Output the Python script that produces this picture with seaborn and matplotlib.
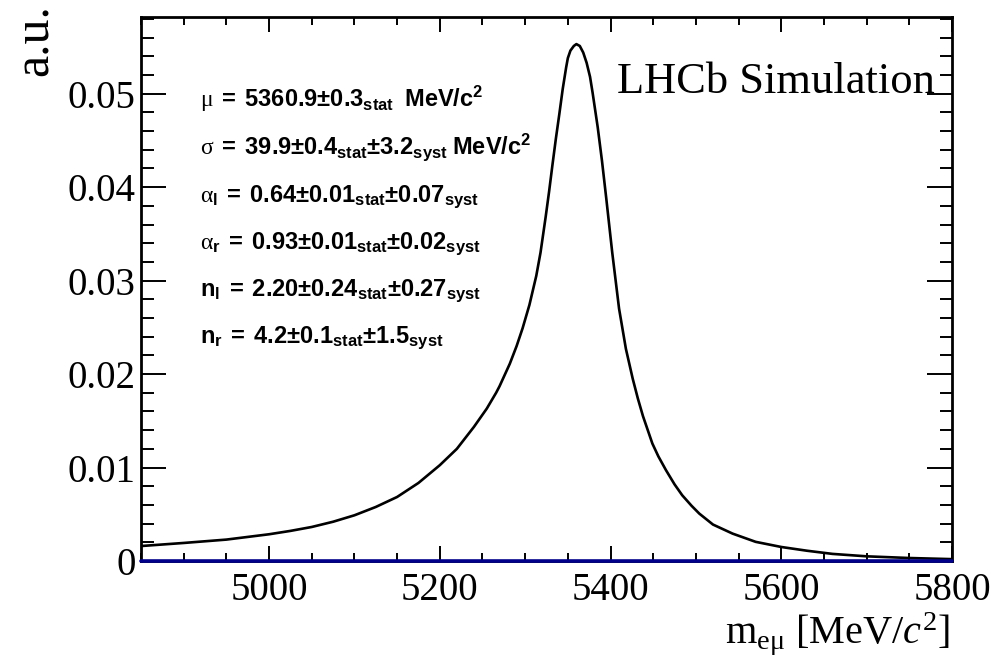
import numpy as np
import pandas as pd
import matplotlib
matplotlib.use("Agg")
import matplotlib.pyplot as plt
import seaborn as sns
from matplotlib.ticker import MultipleLocator, FixedLocator, FixedFormatter

# ---- data ----
mass = [4850, 4900, 4950, 5000, 5025, 5050, 5075, 5100, 5125, 5150, 5175,
        5200, 5220, 5240, 5255, 5266, 5270, 5282, 5290, 5297, 5305, 5313,
        5318, 5324, 5328, 5332, 5336, 5340, 5344, 5348, 5350, 5353, 5357,
        5360, 5364, 5368, 5372, 5376, 5379, 5385, 5390, 5395, 5402, 5410,
        5418, 5426, 5432, 5438, 5449, 5456, 5465, 5475, 5484, 5495, 5504,
        5520, 5543, 5570, 5600, 5630, 5660, 5700, 5750, 5800]
density = [0.00160, 0.00193, 0.00229, 0.00286, 0.00322, 0.00364, 0.00420,
           0.00489, 0.00578, 0.00685, 0.00835, 0.01025, 0.01200, 0.01435,
           0.01630, 0.01800, 0.01870, 0.02110, 0.02300, 0.02490, 0.02740,
           0.03050, 0.03300, 0.03680, 0.03950, 0.04240, 0.04520, 0.04780,
           0.05050, 0.05280, 0.05380, 0.05460, 0.05510, 0.05530, 0.05510,
           0.05440, 0.05330, 0.05180, 0.05010, 0.04640, 0.04280, 0.03880,
           0.03300, 0.02700, 0.02270, 0.01950, 0.01739, 0.01550, 0.01257,
           0.01120, 0.00971, 0.00820, 0.00703, 0.00590, 0.00507, 0.00390,
           0.00293, 0.00205, 0.00150, 0.00110, 0.00076, 0.00050, 0.00032,
           0.00020]

x_ticks = [5000, 5200, 5400, 5600, 5800]
x_tick_labels = ["5000", "5200", "5400", "5600", "5800"]
y_ticks = [0.0, 0.01, 0.02, 0.03, 0.04, 0.05]
y_tick_labels = ["0", "0.01", "0.02", "0.03", "0.04", "0.05"]

param_lines = [
    r"$\mathrm{\mu}\ \mathbf{{=}\ 5360.9{\pm}0.3_{stat}\ \ MeV/c^{2}}$",
    r"$\mathrm{\sigma}\ \mathbf{{=}\ 39.9{\pm}0.4_{stat}{\pm}3.2_{syst}\ MeV/c^{2}}$",
    r"$\mathrm{\alpha}_{\mathbf{l}}\ \mathbf{{=}\ 0.64{\pm}0.01_{stat}{\pm}0.07_{syst}}$",
    r"$\mathrm{\alpha}_{\mathbf{r}}\ \mathbf{{=}\ 0.93{\pm}0.01_{stat}{\pm}0.02_{syst}}$",
    r"$\mathbf{n_{l}\ {=}\ 2.20{\pm}0.24_{stat}{\pm}0.27_{syst}}$",
    r"$\mathbf{n_{r}\ {=}\ 4.2{\pm}0.1_{stat}{\pm}1.5_{syst}}$",
]
label_text = "LHCb Simulation"
x_label = r"m$_{\mathrm{e\mu}}$ [MeV/$c^{2}$]"
y_label = "a.u."

# ---- style ----
sns.set_style("white")
plt.rcParams["font.family"] = ["Liberation Serif", "DejaVu Serif"]
plt.rcParams["mathtext.fontset"] = "custom"
plt.rcParams["mathtext.rm"] = "Liberation Serif"
plt.rcParams["mathtext.it"] = "Liberation Serif:italic"
plt.rcParams["mathtext.bf"] = "Liberation Sans:bold"
plt.rcParams["mathtext.sf"] = "Liberation Sans"
for k in ["text.color", "axes.labelcolor", "xtick.color", "ytick.color",
          "axes.edgecolor"]:
    plt.rcParams[k] = "black"

W, H = 996, 656
fig = plt.figure(figsize=(W / 100, H / 100), dpi=100)
L, R, T, B = 141, 952, 17, 561
ax = fig.add_axes([L / W, 1 - B / H, (R - L) / W, (B - T) / H])

df = pd.DataFrame({"mass": mass, "density": density})
sns.lineplot(data=df, x="mass", y="density", color="black", lw=1.9, ax=ax,
             zorder=3)
base = pd.DataFrame({"mass": [mass[0], mass[-1]], "density": [0.0, 0.0]})
sns.lineplot(data=base, x="mass", y="density", color="#00008b", lw=2.6,
             ax=ax, zorder=4, clip_on=False)

ax.set_xlim(4850, 5800)
ax.set_ylim(0, 0.0582)
ax.set_xlabel("")
ax.set_ylabel("")

ax.xaxis.set_major_locator(FixedLocator(x_ticks))
ax.xaxis.set_major_formatter(FixedFormatter(x_tick_labels))
ax.xaxis.set_minor_locator(MultipleLocator(50))
ax.yaxis.set_major_locator(FixedLocator(y_ticks))
ax.yaxis.set_major_formatter(FixedFormatter(y_tick_labels))
ax.yaxis.set_minor_locator(MultipleLocator(0.002))

for sp in ax.spines.values():
    sp.set_linewidth(2.0)
    sp.set_color("black")

ax.tick_params(axis="both", which="both", direction="in", top=True,
               right=True, bottom=True, left=True, color="black", width=1.4,
               labelsize=28, labelcolor="black")
ax.tick_params(axis="x", which="major", length=11, pad=8)
ax.tick_params(axis="x", which="minor", length=5.5)
ax.tick_params(axis="y", which="major", length=18, pad=4)
ax.tick_params(axis="y", which="minor", length=9)

ax.text((617 - L) / (R - L), (B - 93) / (B - T), label_text,
        transform=ax.transAxes, fontsize=32, ha="left", va="baseline",
        family="Liberation Serif", color="black")

for i, line in enumerate(param_lines):
    yb = 107 + i * 47.3
    fig.text(200 / W, 1 - yb / H, line, fontsize=17, ha="left",
             va="baseline", color="black")

fig.text(950 / W, 1 - 643 / H, x_label, fontsize=29, ha="right",
         va="baseline", color="black")
fig.text(35 / W, 1 - 4 / H, y_label, fontsize=36, rotation=90,
         ha="center", va="top", color="black")

fig.savefig("out.png", dpi=100)
